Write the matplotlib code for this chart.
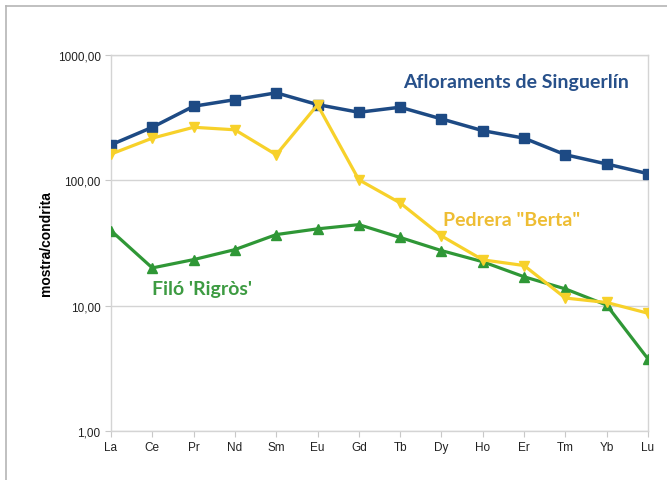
import matplotlib
matplotlib.use('Agg')
import matplotlib.pyplot as plt
from matplotlib.lines import Line2D
import numpy as np

elements = ["La", "Ce", "Pr", "Nd", "Sm", "Eu", "Gd", "Tb", "Dy", "Ho", "Er", "Tm", "Yb", "Lu"]
singuerlin = [192, 265, 390, 440, 499, 402, 349, 383, 309, 249, 217, 160, 135, 113]
berta = [162, 217, 265, 253, 160, 400, 101, 66, 36, 23.2, 20.9, 11.5, 10.6, 8.7]
rigros = [39.7, 20.0, 23.3, 28.0, 36.9, 41.0, 44.3, 35.0, 27.5, 22.4, 17.0, 13.6, 10.1, 3.76]
yticks = [1, 10, 100, 1000]
ylabels = ["1,00", "10,00", "100,00", "1000,00"]

blue = "#1d4a84"
yellow = "#f7d12a"
green = "#2f9736"

fig = plt.figure(figsize=(6.67, 4.81), dpi=100)
ax = fig.add_axes([0.1664, 0.1019, 0.8051, 0.7817])

x = np.arange(len(elements))
ax.plot(x, rigros, color=green, lw=2.3, marker="^", ms=7, zorder=3)
ax.plot(x, singuerlin, color=blue, lw=2.5, marker="s", ms=7, zorder=4)
ax.plot(x, berta, color=yellow, lw=2.3, marker="v", ms=7, zorder=5)

ax.set_yscale("log")
ax.set_ylim(1, 1000)
ax.set_xlim(0, len(elements) - 1)
ax.set_yticks(yticks)
ax.set_yticklabels(ylabels)
ax.minorticks_off()
ax.set_xticks(x)
ax.set_xticklabels(elements)
ax.tick_params(axis="both", labelsize=8.5, length=4, width=0.8, color="#c8c8c8")
for lbl in ax.get_xticklabels() + ax.get_yticklabels():
    lbl.set_color("#222222")
    lbl.set_family("Liberation Sans")

ax.grid(axis="y", color="#d4d4d4", lw=1)
for side in ["left", "right", "top", "bottom"]:
    ax.spines[side].set_color("#d4d4d4")
    ax.spines[side].set_linewidth(1)

ax.set_ylabel("mostra/condrita", fontsize=10, fontweight="bold", family="Liberation Sans", labelpad=3)

ax.text(9.8, 620, "Afloraments de Singuerlín", color="#27508a", fontsize=14,
        fontweight="bold", family="Lato", ha="center", va="center")
ax.text(9.7, 49, "Pedrera \"Berta\"", color="#eebd33", fontsize=14,
        fontweight="bold", family="Lato", ha="center", va="center")
ax.text(2.2, 13.6, "Filó 'Rigròs'", color="#3d9b42", fontsize=14,
        fontweight="bold", family="Lato", ha="center", va="center")

# outer frame of the picture (cut on right and bottom)
fig.add_artist(Line2D([0.009, 0.009], [0.0, 0.985], transform=fig.transFigure, color="#b5b5b5", lw=1.2))
fig.add_artist(Line2D([0.009, 1.0], [0.985, 0.985], transform=fig.transFigure, color="#b5b5b5", lw=1.2))

fig.savefig("out.png", dpi=100)
plt.close()
